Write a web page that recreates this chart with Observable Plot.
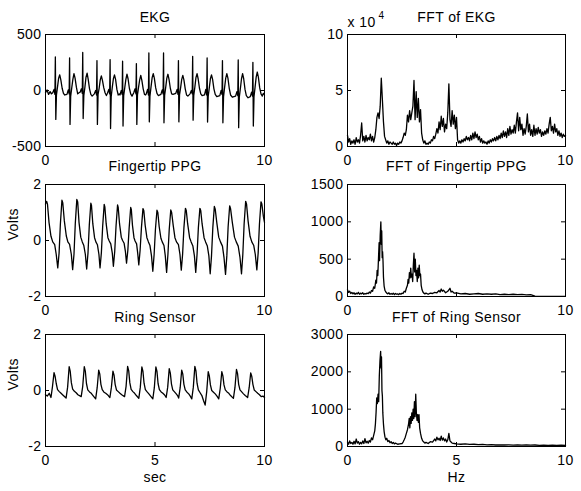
<!DOCTYPE html>
<html><head><meta charset="utf-8">
<script src="https://cdn.jsdelivr.net/npm/d3@7"></script>
<script src="https://cdn.jsdelivr.net/npm/@observablehq/plot@0.6"></script>
<style>
html,body{margin:0;padding:0;background:#fff;}
#chart{position:relative;width:581px;height:491px;overflow:hidden;background:#fff;}
#chart svg{position:absolute;}
</style></head><body><div id="chart"></div>
<script>
// ---------- tick values / labels ----------
const xTicks = [0, 5, 10];
const xLabelsTop = [0, 10];
const xLabelsBottom = [0, 5, 10];
const ekgTicks = [-500, 0, 500];
const voltTicks = [-2, 0, 2];
const fftEkgTicks = [0, 5, 10];
const fftPpgTicks = [0, 500, 1000, 1500];
const fftRingTicks = [0, 1000, 2000, 3000];
const titles = ["EKG", "FFT of EKG", "Fingertip PPG", "FFT of Fingertip PPG", "Ring Sensor", "FFT of Ring Sensor"];

// ---------- EKG (sec, value) ----------
const ekgT = [
 0, 0.07, 0.14, 0.21, 0.27,
 0.33, 0.39, 0.43, 0.45, 0.47, 0.50, 0.55, 0.60, 0.65, 0.70, 0.76, 0.82, 0.88,
 0.98, 1.04, 1.08, 1.10, 1.12, 1.15, 1.20, 1.25, 1.30, 1.35, 1.41, 1.47, 1.53,
 1.58, 1.64, 1.68, 1.70, 1.72, 1.75, 1.80, 1.85, 1.90, 1.95, 2.01, 2.07, 2.13,
 2.23, 2.29, 2.33, 2.35, 2.37, 2.40, 2.45, 2.50, 2.55, 2.60, 2.66, 2.72, 2.78,
 2.83, 2.89, 2.93, 2.95, 2.97, 3.00, 3.05, 3.10, 3.15, 3.20, 3.26, 3.32, 3.37,
 3.40, 3.46, 3.50, 3.52, 3.54, 3.57, 3.62, 3.67, 3.72, 3.77, 3.83, 3.89, 3.95,
 4.03, 4.09, 4.13, 4.15, 4.17, 4.20, 4.25, 4.30, 4.35, 4.40, 4.46, 4.52, 4.57,
 4.60, 4.66, 4.70, 4.72, 4.74, 4.77, 4.82, 4.87, 4.92, 4.97, 5.03, 5.09, 5.15,
 5.27, 5.33, 5.37, 5.39, 5.41, 5.44, 5.49, 5.54, 5.59, 5.64, 5.70, 5.76, 5.82,
 5.95, 6.01, 6.05, 6.07, 6.09, 6.12, 6.17, 6.22, 6.27, 6.32, 6.38, 6.44, 6.50,
 6.60, 6.66, 6.70, 6.72, 6.74, 6.77, 6.82, 6.87, 6.92, 6.97, 7.03, 7.09, 7.15,
 7.26, 7.32, 7.36, 7.38, 7.40, 7.43, 7.48, 7.53, 7.58, 7.63, 7.69, 7.75, 7.82,
 7.96, 8.02, 8.06, 8.08, 8.10, 8.13, 8.18, 8.23, 8.28, 8.33, 8.39, 8.45, 8.53,
 8.68, 8.74, 8.78, 8.80, 8.82, 8.85, 8.90, 8.95, 9.00, 9.05, 9.11, 9.17, 9.25,
 9.35, 9.41, 9.45, 9.47, 9.49, 9.52, 9.57, 9.62, 9.67, 9.72, 9.78, 9.84, 9.90,
 9.95, 10.0
];
const ekgV = [
 -20, 5, -35, -10, -30,
 -20, 10, -35, 300, -258, -40, 35, 110, 140, 95, 20, -25, -40,
 -35, 5, -30, 290, -303, -50, 25, 100, 150, 110, 30, -30, -20,
 -15, 15, -25, 340, -250, -45, 30, 120, 155, 100, 15, -35, -50,
 -30, 0, -40, 267, -303, -35, 20, 95, 130, 90, 25, -20, -45,
 -25, 10, -30, 276, -340, -55, 30, 105, 140, 100, 10, -40, -30,
 -40, 0, -35, 261, -317, -45, 25, 100, 145, 105, 20, -30, -50,
 -20, 15, -30, 240, -303, -40, 30, 95, 135, 90, 15, -35, -40,
 -30, 10, -40, 335, -280, -50, 35, 115, 150, 110, 25, -25, -45,
 -35, 5, -30, 335, -288, -45, 30, 110, 145, 100, 20, -30, -35,
 -25, 10, -35, 267, -280, -40, 25, 100, 135, 95, 15, -40, -50,
 -30, 0, -30, 305, -265, -45, 30, 115, 150, 105, 20, -30, -45,
 -40, 10, -40, 290, -282, -50, 25, 105, 140, 100, 15, -35, -55,
 -45, 0, -35, 267, -288, -55, 30, 110, 150, 110, 20, -40, -60,
 -50, -10, -45, 273, -332, -60, 20, 105, 150, 105, 10, -45, -65,
 -55, -15, -50, 252, -317, -55, 30, 120, 165, 120, 25, -30, -50,
 -25, -40
];

// ---------- Fingertip PPG (sec, volts) ----------
const ppgT = [
 0,
 0.05, 0.09, 0.16, 0.25, 0.33, 0.42, 0.49, 0.56, 0.62, 0.68,
 0.75, 0.79, 0.86, 0.95, 1.02, 1.10, 1.18, 1.24, 1.30, 1.36,
 1.43, 1.47, 1.53, 1.61, 1.68, 1.75, 1.82, 1.88, 1.94, 2.00,
 2.07, 2.10, 2.16, 2.24, 2.30, 2.37, 2.44, 2.49, 2.55, 2.61,
 2.68, 2.71, 2.77, 2.85, 2.91, 2.98, 3.05, 3.10, 3.16, 3.22,
 3.29, 3.32, 3.38, 3.46, 3.52, 3.59, 3.65, 3.70, 3.76, 3.82,
 3.89, 3.92, 3.97, 4.04, 4.09, 4.16, 4.21, 4.26, 4.32, 4.38,
 4.45, 4.49, 4.55, 4.63, 4.70, 4.77, 4.84, 4.90, 4.96, 5.02,
 5.09, 5.13, 5.19, 5.27, 5.33, 5.41, 5.47, 5.53, 5.59, 5.65,
 5.72, 5.76, 5.83, 5.91, 5.98, 6.07, 6.14, 6.20, 6.26, 6.32,
 6.39, 6.43, 6.49, 6.58, 6.65, 6.73, 6.80, 6.86, 6.92, 6.98,
 7.05, 7.09, 7.15, 7.24, 7.31, 7.39, 7.46, 7.52, 7.58, 7.64,
 7.71, 7.75, 7.82, 7.91, 7.99, 8.08, 8.15, 8.22, 8.28, 8.34,
 8.41, 8.45, 8.53, 8.63, 8.71, 8.80, 8.88, 8.95, 9.01, 9.07,
 9.14, 9.18, 9.25, 9.34, 9.42, 9.51, 9.58, 9.65, 9.71, 9.77,
 9.84, 9.88, 9.95, 10.0
];
const ppgV = [
 1.30,
 1.40, 1.30, 0.65, 0.15, -0.05, -0.15, -0.50, -0.98, -0.45, 0.60,
 1.44, 1.34, 0.70, 0.16, -0.05, -0.14, -0.50, -1.04, -0.50, 0.60,
 1.47, 1.38, 0.65, 0.12, -0.05, -0.18, -0.50, -1.02, -0.45, 0.55,
 1.33, 1.25, 0.60, 0.10, -0.05, -0.15, -0.50, -0.98, -0.45, 0.50,
 1.29, 1.20, 0.60, 0.10, -0.02, -0.12, -0.45, -0.92, -0.40, 0.50,
 1.27, 1.18, 0.60, 0.12, 0.00, -0.10, -0.40, -0.81, -0.35, 0.45,
 1.18, 1.10, 0.55, 0.10, -0.02, -0.12, -0.45, -0.87, -0.35, 0.45,
 1.14, 1.06, 0.55, 0.10, -0.05, -0.18, -0.55, -1.10, -0.50, 0.40,
 1.08, 1.00, 0.50, 0.08, -0.05, -0.18, -0.55, -1.14, -0.50, 0.40,
 1.09, 1.00, 0.55, 0.10, -0.05, -0.15, -0.50, -1.06, -0.50, 0.45,
 1.15, 1.06, 0.60, 0.10, -0.05, -0.20, -0.55, -1.14, -0.50, 0.45,
 1.15, 1.06, 0.60, 0.10, -0.05, -0.20, -0.55, -1.19, -0.55, 0.45,
 1.22, 1.12, 0.65, 0.12, -0.05, -0.20, -0.60, -1.21, -0.55, 0.50,
 1.24, 1.14, 0.65, 0.12, -0.05, -0.20, -0.60, -1.19, -0.50, 0.60,
 1.40, 1.30, 0.70, 0.15, -0.05, -0.18, -0.50, -1.05, -0.45, 0.60,
 1.38, 1.30, 0.85, 0.65
];

// ---------- Ring sensor (sec, volts) ----------
const ringT = [
 0, 0.08, 0.17, 0.25, 0.32,
 0.39, 0.44, 0.49, 0.55, 0.63, 0.71, 0.79, 0.94, 1.01,
 1.08, 1.13, 1.18, 1.24, 1.32, 1.40, 1.48, 1.63, 1.70,
 1.77, 1.82, 1.87, 1.93, 2.01, 2.09, 2.17, 2.29, 2.36,
 2.43, 2.48, 2.53, 2.59, 2.67, 2.75, 2.83, 2.94, 3.01,
 3.08, 3.13, 3.18, 3.24, 3.32, 3.40, 3.48, 3.61, 3.68,
 3.75, 3.80, 3.85, 3.91, 3.99, 4.07, 4.15, 4.26, 4.33,
 4.40, 4.45, 4.50, 4.56, 4.64, 4.72, 4.80, 4.90, 4.97,
 5.04, 5.09, 5.14, 5.20, 5.28, 5.36, 5.44, 5.51, 5.58,
 5.65, 5.70, 5.75, 5.81, 5.89, 5.97, 6.03, 6.08, 6.15,
 6.22, 6.27, 6.32, 6.38, 6.46, 6.54, 6.61, 6.68, 6.75,
 6.82, 6.87, 6.92, 6.98, 7.06, 7.14, 7.21, 7.29, 7.36,
 7.43, 7.48, 7.53, 7.59, 7.67, 7.75, 7.83, 7.91, 7.98,
 8.05, 8.10, 8.15, 8.21, 8.29, 8.37, 8.45, 8.58, 8.65,
 8.72, 8.77, 8.82, 8.88, 8.96, 9.04, 9.12, 9.23, 9.30,
 9.37, 9.42, 9.47, 9.53, 9.61, 9.69, 9.77, 9.85, 9.93, 10.0
];
const ringV = [
 -0.15, -0.20, -0.10, -0.25, 0.15,
 0.64, 0.50, 0.25, 0.03, -0.04, -0.10, -0.16, -0.27, 0.12,
 0.85, 0.68, 0.28, 0.05, -0.03, -0.08, -0.15, -0.22, 0.15,
 0.85, 0.68, 0.25, 0.02, -0.05, -0.10, -0.18, -0.30, 0.10,
 0.73, 0.58, 0.22, 0.03, -0.06, -0.10, -0.15, -0.25, 0.12,
 0.69, 0.55, 0.22, 0.02, -0.04, -0.10, -0.15, -0.22, 0.15,
 0.86, 0.70, 0.28, 0.04, -0.04, -0.10, -0.18, -0.28, 0.12,
 0.84, 0.68, 0.26, 0.03, -0.05, -0.12, -0.20, -0.30, 0.10,
 0.84, 0.68, 0.25, 0.03, -0.05, -0.10, -0.16, -0.25, 0.12,
 0.78, 0.62, 0.24, 0.02, -0.05, -0.12, -0.18, -0.27, 0.10,
 0.73, 0.58, 0.22, 0.02, -0.06, -0.12, -0.20, -0.30, 0.12,
 0.86, 0.70, 0.26, 0.02, -0.08, -0.18, -0.35, -0.52, -0.05,
 0.67, 0.52, 0.20, 0.00, -0.06, -0.12, -0.20, -0.30, 0.08,
 0.67, 0.52, 0.20, 0.02, -0.05, -0.10, -0.18, -0.28, 0.10,
 0.75, 0.60, 0.22, 0.02, -0.05, -0.12, -0.18, -0.25, 0.10,
 0.63, 0.50, 0.22, 0.02, -0.04, -0.10, -0.15, -0.22, -0.20, -0.25
];

// ---------- FFT of EKG (x 10^4), sampled every 0.05 Hz from each section start ----------
const fftEkgStarts = [0.00, 1.30, 1.80, 2.70, 3.50, 4.10, 5.10, 7.65];
const fftEkgVals = [
 [1.0, 0.4, 0.7, 0.2, 0.5, 0.3, 0.6, 0.2, 0.8, 0.4, 0.6, 0.3, 1.0, 2.1, 0.5, 0.9, 0.4, 1.0, 0.5, 0.8, 0.6, 1.1, 0.5, 0.9, 0.4, 0.8],
 [1.5, 2.6, 3.0, 2.5, 3.6, 6.1, 4.2, 2.2, 0.9, 0.6],
 [0.3, 0.5, 0.2, 0.4, 0.3, 0.2, 0.4, 0.2, 0.3, 0.1, 0.3, 0.2, 0.4, 0.3, 0.5, 0.8, 1.2, 1.0],
 [1.5, 2.8, 2.2, 3.2, 2.4, 3.0, 3.6, 5.9, 2.4, 4.9, 2.6, 4.3, 2.2, 3.3, 1.2, 0.6],
 [0.3, 0.5, 0.2, 0.3, 0.2, 0.4, 0.3, 0.6, 0.5, 0.9, 0.7, 1.1],
 [1.6, 1.2, 2.2, 1.5, 2.7, 1.8, 2.5, 1.3, 2.0, 1.6, 3.0, 5.6, 2.4, 1.8, 3.2, 2.0, 2.8, 1.6, 2.6, 0.6],
 [0.3, 0.5, 0.3, 0.6, 0.4, 0.7, 0.5, 0.9, 0.6, 0.8, 0.5, 1.0, 0.6, 1.2, 0.7, 1.3, 0.8, 1.1, 0.6, 0.9,
  0.4, 0.7, 0.3, 0.5, 0.3, 0.4, 0.2, 0.5, 0.3, 0.6, 0.4, 0.7, 0.5, 0.8, 0.5, 0.9, 0.6, 1.0, 0.7, 1.2,
  0.8, 1.4, 0.9, 1.3, 0.8, 1.6, 1.0, 1.8, 1.1, 1.5, 1.2],
 [1.9, 1.2, 2.2, 3.0, 1.4, 2.6, 1.5, 2.0, 1.0, 1.6, 1.1, 1.8, 2.9, 1.3, 2.0, 1.0, 1.5, 0.9, 1.9, 1.0,
  1.6, 1.1, 1.7, 1.2, 1.5, 0.9, 1.3, 1.0, 1.4, 1.1, 1.6, 1.2, 2.0, 2.6, 1.4, 1.8, 1.2, 2.0, 1.3, 1.6,
  1.0, 1.4, 0.9, 1.2, 0.8, 1.1, 0.9, 1.0]
];

// ---------- FFT of Fingertip PPG: [Hz, magnitude] ----------
const fftPpg = [
 [0,90],[0.05,55],[0.1,70],[0.15,40],[0.2,55],[0.25,35],[0.3,50],[0.35,30],[0.4,45],[0.45,35],
 [0.5,55],[0.55,30],[0.6,45],[0.65,35],[0.7,50],[0.75,30],[0.8,40],[0.85,35],[0.9,45],[0.95,40],
 [1.0,60],[1.05,45],[1.1,80],[1.15,70],[1.2,130],[1.25,110],[1.3,220],[1.33,180],[1.36,350],[1.39,280],
 [1.42,500],[1.45,720],[1.47,480],[1.5,820],[1.53,1000],[1.55,700],[1.57,880],[1.59,520],[1.61,600],[1.63,470],
 [1.65,260],[1.68,140],[1.72,80],[1.76,60],[1.8,45],[1.85,35],[1.9,50],[1.95,30],[2.0,40],[2.05,30],
 [2.1,45],[2.15,25],[2.2,40],[2.25,30],[2.3,35],[2.35,25],[2.4,40],[2.45,30],[2.5,45],[2.55,40],
 [2.6,70],[2.65,60],[2.7,110],[2.75,150],[2.78,230],[2.81,180],[2.84,320],[2.87,250],[2.9,380],[2.93,260],
 [2.96,300],[2.99,200],[3.02,420],[3.05,580],[3.08,330],[3.11,500],[3.14,280],[3.17,350],[3.2,200],[3.23,380],
 [3.26,250],[3.29,420],[3.32,280],[3.35,300],[3.38,150],[3.42,90],[3.46,60],[3.5,45],[3.55,35],[3.6,45],
 [3.7,30],[3.8,45],[3.9,40],[4.0,55],[4.1,50],[4.2,80],[4.25,60],[4.3,100],[4.35,70],[4.4,85],
 [4.5,50],[4.6,70],[4.7,110],[4.75,60],[4.8,70],[4.9,45],[5.0,50],[5.2,35],[5.4,40],[5.6,30],
 [5.8,35],[6.0,40],[6.2,30],[6.4,35],[6.6,30],[6.8,35],[7.0,25],[7.2,30],[7.4,25],[7.6,30],
 [7.8,25],[8.0,28],[8.2,22],[8.4,25],[8.6,5],[9.0,3],[9.5,3],[10,2]
];

// ---------- FFT of Ring Sensor: [Hz, magnitude] ----------
const fftRing = [
 [0,120],[0.05,60],[0.1,150],[0.15,80],[0.2,110],[0.25,60],[0.3,140],[0.35,70],[0.4,200],[0.45,90],
 [0.5,130],[0.55,60],[0.6,110],[0.65,70],[0.7,150],[0.75,80],[0.8,210],[0.85,100],[0.9,140],[0.95,90],
 [1.0,160],[1.05,120],[1.1,230],[1.15,180],[1.2,300],[1.25,420],[1.28,600],[1.31,900],[1.34,1300],[1.37,1150],
 [1.4,1400],[1.43,1200],[1.46,1900],[1.49,2300],[1.52,2550],[1.54,2100],[1.56,2400],[1.58,1500],[1.6,1350],[1.62,900],
 [1.65,600],[1.68,400],[1.72,250],[1.76,180],[1.8,220],[1.85,130],[1.9,160],[1.95,100],[2.0,130],[2.05,80],
 [2.1,110],[2.15,70],[2.2,90],[2.3,60],[2.4,70],[2.5,80],[2.55,120],[2.6,180],[2.65,250],[2.7,350],
 [2.75,450],[2.8,600],[2.83,750],[2.86,500],[2.89,800],[2.92,620],[2.95,900],[2.98,700],[3.01,1000],[3.04,750],
 [3.07,1200],[3.1,800],[3.13,1400],[3.16,900],[3.19,700],[3.22,850],[3.25,650],[3.28,850],[3.31,500],[3.35,350],
 [3.4,220],[3.45,150],[3.5,120],[3.55,90],[3.6,110],[3.7,80],[3.8,130],[3.9,120],[4.0,200],[4.05,150],
 [4.1,250],[4.15,180],[4.2,220],[4.25,160],[4.3,280],[4.35,170],[4.4,230],[4.45,150],[4.5,200],[4.55,120],
 [4.6,180],[4.65,350],[4.7,150],[4.75,120],[4.8,90],[4.9,80],[5.0,70],[5.2,60],[5.4,70],[5.6,55],
 [5.8,60],[6.0,50],[6.2,55],[6.4,45],[6.6,50],[6.8,40],[7.0,45],[7.2,40],[7.4,45],[7.6,35],
 [7.8,40],[8.0,35],[8.2,40],[8.4,35],[8.6,40],[8.8,30],[9.0,35],[9.2,30],[9.4,35],[9.6,30],
 [9.8,35],[10,30]
];

// ---------- build tables ----------
const zip = (xs, ys) => xs.map((x, i) => ({x, y: ys[i]}));
const ekgData = zip(ekgT, ekgV);
const ppgData = zip(ppgT, ppgV);
const ringData = zip(ringT, ringV);
const fftEkgData = fftEkgStarts.flatMap((s, k) => fftEkgVals[k].map((v, i) => ({x: s + i * 0.05, y: v})));
const fftPpgData = fftPpg.map(([x, y]) => ({x, y}));
const fftRingData = fftRing.map(([x, y]) => ({x, y}));

// ---------- layout ----------
const FONT = '"Liberation Sans", Arial, Helvetica, sans-serif';
const ML = 50, MR = 14, MT = 34, MB = 46;
const chart = document.getElementById("chart");

function panel(o) {
  const bw = o.boxW, bh = o.boxH;
  const marks = [
    Plot.line(o.data, {x: "x", y: "y", stroke: "#000", strokeWidth: 1.3}),
    Plot.frame({stroke: "#000", strokeWidth: 1}),
    Plot.tickX(xTicks, {x: d => d, insetTop: bh - 4, stroke: "#000"}),
    Plot.tickX(xTicks, {x: d => d, insetBottom: bh - 4, stroke: "#000"}),
    Plot.tickY(o.yTicks, {y: d => d, insetRight: bw - 4, stroke: "#000"}),
    Plot.tickY(o.yTicks, {y: d => d, insetLeft: bw - 4, stroke: "#000"}),
    Plot.text(o.xLabels, {x: d => d, text: d => String(d), frameAnchor: "bottom", lineAnchor: "middle", dy: 14, fill: "#000"}),
    Plot.text(o.yTicks, {y: d => d, text: d => String(d), frameAnchor: "left", textAnchor: "end", lineAnchor: "middle", dx: -4, fill: "#000"}),
    Plot.text([o.title], {text: d => d, frameAnchor: "top", lineAnchor: "middle", dy: o.titleDy, fill: "#000"})
  ];
  if (o.yTitle) marks.push(Plot.text([o.yTitle], {text: d => d, frameAnchor: "left", rotate: -90, lineAnchor: "middle", dx: -32, fill: "#000"}));
  if (o.xTitle) marks.push(Plot.text([o.xTitle], {text: d => d, frameAnchor: "bottom", lineAnchor: "middle", dy: 31, fill: "#000"}));
  if (o.exponent) {
    marks.push(Plot.text(["x 10"], {text: d => d, frameAnchor: "top-left", textAnchor: "start", lineAnchor: "middle", dx: 0, dy: -12, fill: "#000"}));
    marks.push(Plot.text([o.exponent], {text: d => d, frameAnchor: "top-left", textAnchor: "start", lineAnchor: "middle", dx: 31, dy: -19, fontSize: 10, fill: "#000"}));
  }
  const svg = Plot.plot({
    width: bw + ML + MR, height: bh + MT + MB,
    marginLeft: ML, marginRight: MR, marginTop: MT, marginBottom: MB,
    x: {domain: [0, 10], axis: null},
    y: {domain: o.yDomain, axis: null},
    style: {background: "transparent", overflow: "visible", fontFamily: FONT, fontSize: "14px", letterSpacing: "0.4px", color: "#000"},
    marks
  });
  svg.style.left = (o.left - ML) + "px";
  svg.style.top = (o.top - MT) + "px";
  chart.append(svg);
}

const LX = 45, RX = 347, LW = 219, RW = 218, BH = 112;
const rows = [34, 184, 334];

panel({data: ekgData, left: LX, top: rows[0], boxW: LW, boxH: BH, yDomain: [-500, 500], yTicks: ekgTicks, xLabels: xLabelsTop, title: titles[0], titleDy: -17});
panel({data: fftEkgData, left: RX, top: rows[0], boxW: RW, boxH: BH, yDomain: [0, 10], yTicks: fftEkgTicks, xLabels: xLabelsTop, title: titles[1], titleDy: -17, exponent: "4"});
panel({data: ppgData, left: LX, top: rows[1], boxW: LW, boxH: BH, yDomain: [-2, 2], yTicks: voltTicks, xLabels: xLabelsTop, title: titles[2], titleDy: -18, yTitle: "Volts"});
panel({data: fftPpgData, left: RX, top: rows[1], boxW: RW, boxH: BH, yDomain: [0, 1500], yTicks: fftPpgTicks, xLabels: xLabelsTop, title: titles[3], titleDy: -18});
panel({data: ringData, left: LX, top: rows[2], boxW: LW, boxH: BH, yDomain: [-2, 2], yTicks: voltTicks, xLabels: xLabelsBottom, title: titles[4], titleDy: -17, yTitle: "Volts", xTitle: "sec"});
panel({data: fftRingData, left: RX, top: rows[2], boxW: RW, boxH: BH, yDomain: [0, 3000], yTicks: fftRingTicks, xLabels: xLabelsBottom, title: titles[5], titleDy: -17, xTitle: "Hz"});
</script>
</body></html>
